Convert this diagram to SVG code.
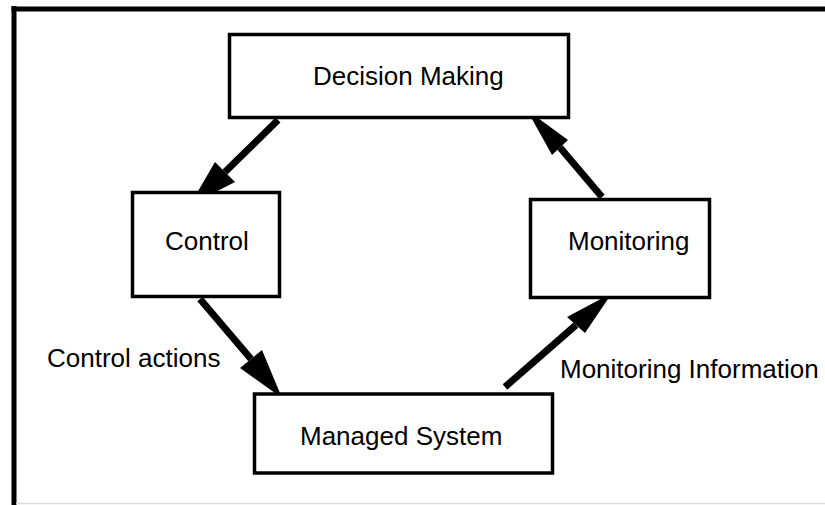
<svg xmlns="http://www.w3.org/2000/svg" width="825" height="505" viewBox="0 0 825 505">
  <style>
    .box { fill: #fff; stroke: #000; stroke-width: 3.5; }
    .lbl { font-family: "Liberation Sans", Arial, sans-serif; font-size: 26px; fill: #000; }
    .shaft { stroke: #000; stroke-width: 7; fill: none; }
    .head { fill: #000; stroke: none; }
  </style>
  <rect width="825" height="505" fill="#fff"/>
  <!-- page frame -->
  <g id="frame">
    <line x1="14" y1="6" x2="14" y2="505" stroke="#000" stroke-width="5"/>
    <line x1="11.5" y1="9" x2="825" y2="9" stroke="#000" stroke-width="5"/>
    <line x1="16" y1="503.5" x2="825" y2="503.5" stroke="#dcdcdc" stroke-width="1.5"/>
  </g>

  <g id="connectors">
    <g id="dm-to-control">
      <line class="shaft" x1="278" y1="120" x2="225" y2="172"/>
      <polygon class="head" points="190,205 215,162 235,182"/>
    </g>
    <g id="control-to-managed">
      <line class="shaft" x1="200" y1="299" x2="251" y2="359"/>
      <polygon class="head" points="282,398 240,368 262,350"/>
    </g>
    <g id="managed-to-monitoring">
      <line class="shaft" x1="505" y1="387" x2="576" y2="325"/>
      <polygon class="head" points="612,293 567,317 585,333"/>
    </g>
    <g id="monitoring-to-dm">
      <line class="shaft" x1="602" y1="197" x2="560" y2="147.5"/>
      <polygon class="head" points="527,110 552,155 568,140"/>
    </g>
  </g>

  <g id="decision-making">
    <rect class="box" x="229.5" y="34.5" width="339" height="83"/>
    <text class="lbl" x="313" y="85">Decision Making</text>
  </g>
  <g id="control">
    <rect class="box" x="132.5" y="192.5" width="147" height="104"/>
    <text class="lbl" x="165" y="250">Control</text>
  </g>
  <g id="monitoring">
    <rect class="box" x="530.5" y="199.5" width="179" height="98"/>
    <text class="lbl" x="568" y="250">Monitoring</text>
  </g>
  <g id="managed-system">
    <rect class="box" x="254.5" y="394" width="298" height="79"/>
    <text class="lbl" x="300" y="445">Managed System</text>
  </g>

  <text class="lbl" x="47" y="367">Control actions</text>
  <text class="lbl" x="560" y="378">Monitoring Information</text>
</svg>
